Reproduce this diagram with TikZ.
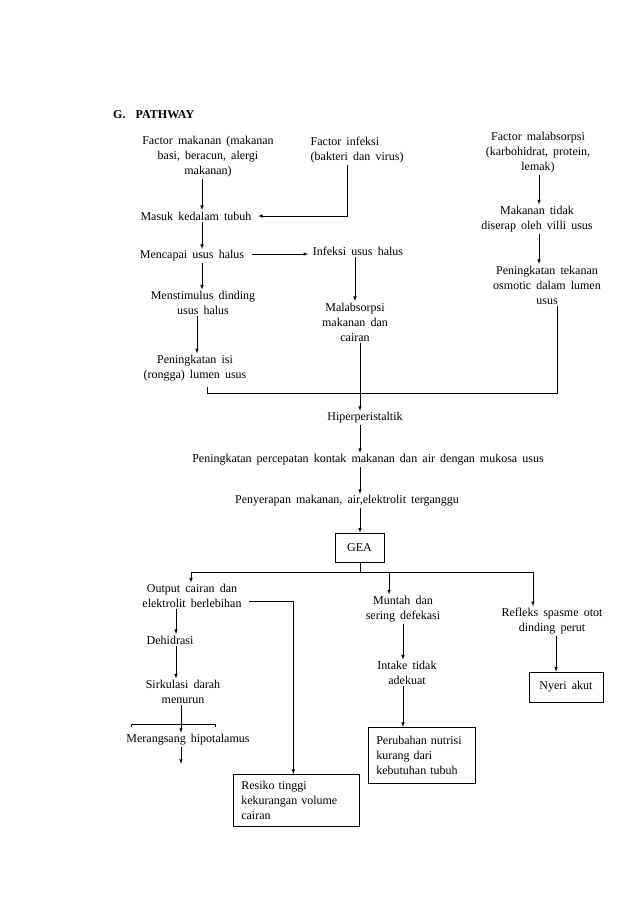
\documentclass[tikz,border=0pt]{standalone}
\usepackage{fontspec}
\setmainfont{Liberation Serif}[WordSpace=1.7]
\usepackage{tikz}
\usetikzlibrary{arrows}

\tikzset{
	txt/.style={align=center, inner sep=1.5pt},
	box/.style={draw, semithick, align=left, anchor=north west, inner xsep=8pt},
	arr/.style={semithick, -latex},
	ln/.style={semithick}
}

\begin{document}
\begin{tikzpicture}[x=1pt, y=-1pt, font=\fontsize{12}{15}\selectfont]
	\useasboundingbox (0,0) rectangle (638,903);
	%% title
	\node[anchor=west, inner sep=0pt, font=\fontsize{12}{15}\selectfont\bfseries] (title) at (113,115) {G.\ \ PATHWAY};
	%% top row
	\node[txt] (fm) at (208,157) {Factor makanan  (makanan\\basi, beracun, alergi\\makanan)};
	\node[txt, align=left, anchor=west] (fi) at (309,150) {Factor infeksi\\(bakteri dan virus)};
	\node[txt] (fmal) at (538,153) {Factor malabsorpsi\\(karbohidrat, protein,\\lemak)};
	%% left column
	\node[txt] (masuk) at (196,216) {Masuk kedalam tubuh};
	\node[txt] (mencapai) at (192,256) {Mencapai usus halus};
	\node[txt] (stim) at (203,303) {Menstimulus dinding\\usus halus};
	\node[txt] (isi) at (195,368) {Peningkatan isi\\(rongga) lumen usus};
	%% middle and right column
	\node[txt] (infeksi) at (358,251) {Infeksi usus halus};
	\node[txt] (malab) at (355,322) {Malabsorpsi\\makanan dan\\cairan};
	\node[txt] (tidak) at (537,219) {Makanan tidak\\diserap oleh villi usus};
	\node[txt] (osmo) at (547,285) {Peningkatan tekanan\\osmotic dalam lumen\\usus};
	%% main trunk
	\coordinate (join) at (360,393);
	\node[txt] (hiper) at (365,418) {Hiperperistaltik};
	\node[txt] (cepat) at (368,460) {Peningkatan percepatan kontak makanan dan air dengan mukosa usus};
	\node[txt] (serap) at (347,501) {Penyerapan makanan, air,elektrolit terganggu};
	\node[draw, semithick, minimum width=49pt, minimum height=29pt, inner sep=0pt] (gea) at (359.5,547.5) {GEA};
	\coordinate (split) at (360,572);
	%% bottom branches
	\node[txt] (output) at (192,596) {Output cairan dan\\elektrolit berlebihan};
	\node[txt, anchor=west] (dehid) at (145,640) {Dehidrasi};
	\coordinate (lcol) at (176,640);
	\node[txt] (sirk) at (183,692) {Sirkulasi darah\\menurun};
	\node[txt] (rangsang) at (188,740) {Merangsang hipotalamus};
	\coordinate (rangsangend) at (181,764);
	\node[txt] (muntah) at (403,609) {Muntah dan\\sering defekasi};
	\node[txt] (intake) at (407,673) {Intake tidak\\adekuat};
	\node[txt] (refleks) at (552,621) {Refleks spasme otot\\dinding perut};
	\node[box, text width=110pt, minimum height=52pt] (resiko) at (233,774) {Resiko tinggi\\kekurangan volume\\cairan};
	\node[box, text width=91pt, minimum height=56pt] (ubah) at (368,727) {Perubahan nutrisi\\kurang dari\\kebutuhan tubuh};
	\node[draw, semithick, minimum width=74pt, minimum height=30pt, inner sep=0pt] (nyeri) at (566,687) {Nyeri akut};

	%% arrows top part
	\draw[arr] ([xshift=-6pt]fm.south) -- ([xshift=6pt]masuk.north);
	\draw[arr] ([xshift=-10pt]fi.south) |- ([xshift=5pt]masuk.east);
	\draw[arr] ([xshift=6pt]masuk.south) -- ([xshift=10pt]mencapai.north);
	\draw[arr] ([xshift=6pt,yshift=2pt]mencapai.east) -- ([xshift=-3pt,yshift=2pt]mencapai.east -| infeksi.west);
	\draw[arr] ([xshift=10pt]mencapai.south) -- ([xshift=-1pt]stim.north);
	\draw[arr] (infeksi.south -| malab.north) -- (malab.north);
	\draw[arr] ([xshift=-6pt]stim.south) -- ([xshift=2pt]isi.north);
	\draw[arr] ([xshift=1pt]fmal.south) -- ([xshift=2pt]tidak.north);
	\draw[arr] ([xshift=2pt]tidak.south) -- ([xshift=-8pt]osmo.north);
	%% merge into trunk
	\draw[ln] ([xshift=12pt,yshift=-4pt]isi.south) |- (join);
	\draw[ln] ([xshift=10pt]osmo.south) |- (join);
	\draw[arr] (malab.south -| join) -- (hiper.north -| join);
	\draw[arr] (hiper.south -| join) -- (cepat.north -| join);
	\draw[arr] (cepat.south -| join) -- (serap.north -| join);
	\draw[arr] (serap.south -| join) -- (gea.north -| join);
	%% split below GEA
	\draw[ln] (gea.south -| split) -- (split);
	\draw[arr] (split) -| ([xshift=-1pt]output.north);
	\draw[arr] (split) -| ([xshift=-19pt]refleks.north);
	\draw[arr] ([xshift=-14pt]muntah.north |- split) -- ([xshift=-14pt]muntah.north);
	%% left branch
	\draw[arr] (output.south -| lcol) -- (dehid.north -| lcol);
	\draw[arr] (dehid.south -| lcol) -- ([xshift=-7pt]sirk.north);
	\draw[arr] ([xshift=-2pt]sirk.south) -- ([xshift=-7pt]rangsang.north);
	\draw[ln] (131,727) -- (131,724) -- (215,724) -- (215,727);
	\draw[arr] ([xshift=-7pt]rangsang.south) -- (rangsangend);
	\draw[arr] ([xshift=6pt,yshift=-5pt]output.east) -| ([xshift=-3pt]resiko.north);
	%% middle and right branch
	\draw[arr] (muntah.south) -- (muntah.south |- intake.north);
	\draw[arr] (muntah.south |- intake.south) -- (muntah.south |- ubah.north);
	\draw[arr] ([xshift=4pt]refleks.south) -- ([xshift=4pt]refleks.south |- nyeri.north);
\end{tikzpicture}
\end{document}
